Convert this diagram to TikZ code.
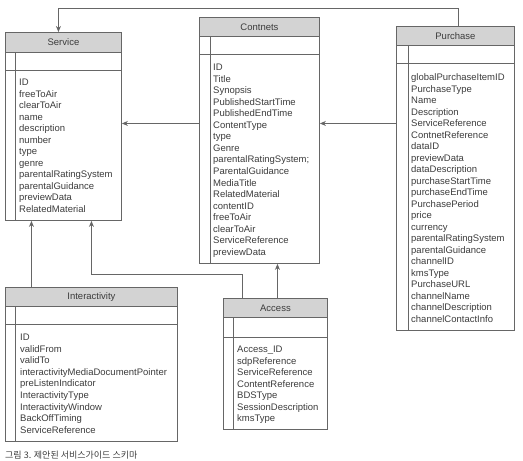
\documentclass[tikz,border=0pt]{standalone}
\usepackage{fontspec}
\setmainfont{Liberation Sans}
\newfontfamily\cjk{Noto Sans CJK KR}
\usetikzlibrary{arrows.meta}
\definecolor{linec}{HTML}{666666}
\definecolor{headc}{HTML}{D3D3D3}
\definecolor{textc}{HTML}{3C3C3C}
% #1 name, #2 left, #3 top, #4 right, #5 bottom, #6 header bottom, #7 separator, #8 inner x, #9 title
\newcommand{\umlbox}[9]{%
  \node[box, minimum width={#4-#2}, minimum height={#5-#3}] (#1) at (#2,#3) {};
  \node[head, minimum width={#4-#2}, minimum height={#6-#3}] (#1h) at (#2,#3) {#9};
  \draw[boxline] (#2,#7) -- (#4,#7);
  \draw[boxline] (#8,#6) -- (#8,#5);
}
\begin{document}
\begin{tikzpicture}[x=1pt,y=-1pt,
  box/.style={draw=linec, line width=0.9pt, inner sep=0, anchor=north west},
  head/.style={draw=linec, fill=headc, line width=0.9pt, inner sep=0, anchor=north west,
    font=\fontsize{9.5}{11}\selectfont, text=textc},
  boxline/.style={draw=linec, line width=0.9pt},
  attr/.style={anchor=west, inner sep=0, text height=7pt, text depth=2pt,
    font=\fontsize{9.5}{11}\selectfont, text=textc},
  conn/.style={draw=linec, line width=0.8pt, -{Stealth[length=6pt,width=5pt]}}]
\useasboundingbox (0,0) rectangle (523,461);

% Service
\umlbox{svc}{5}{32}{121}{220}{52}{70}{15.7}{Service}
\foreach \t [count=\i] in {ID,freeToAir,clearToAir,name,description,number,type,genre,parentalRatingSystem,parentalGuidance,previewData,RelatedMaterial}
  \node[attr] (svc-\i) at (19,{83+11.5*(\i-1)}) {\t};

% Contnets
\umlbox{con}{199}{17}{319}{263}{36}{54}{210}{Contnets}
\foreach \t [count=\i] in {ID,Title,Synopsis,PublishedStartTime,PublishedEndTime,ContentType,type,Genre,parentalRatingSystem;,ParentalGuidance,MediaTitle,RelatedMaterial,contentID,freeToAir,clearToAir,ServiceReference,previewData}
  \node[attr] (con-\i) at (213,{68+11.56*(\i-1)}) {\t};

% Purchase
\umlbox{pur}{396}{26}{514}{330}{45}{63}{408}{Purchase}
\foreach \t [count=\i] in {globalPurchaseItemID,PurchaseType,Name,Description,ServiceReference,ContnetReference,dataID,previewData,dataDescription,purchaseStartTime,purchaseEndTime,PurchasePeriod,price,currency,parentalRatingSystem,parentalGuidance,channelID,kmsType,PurchaseURL,channelName,channelDescription,channelContactInfo}
  \node[attr] (pur-\i) at (411,{78+11.52*(\i-1)}) {\t};

% Interactivity
\umlbox{int}{5}{287}{177}{441}{306}{324}{15.7}{Interactivity}
\foreach \t [count=\i] in {ID,validFrom,validTo,interactivityMediaDocumentPointer,preListenIndicator,InteractivityType,InteractivityWindow,BackOffTiming,ServiceReference}
  \node[attr] (int-\i) at (20,{338+11.6*(\i-1)}) {\t};

% Access
\umlbox{acc}{223}{298}{327}{429}{317}{337}{233}{Access}
\foreach \t [count=\i] in {Access\_ID,sdpReference,ServiceReference,ContentReference,BDSType,SessionDescription,kmsType}
  \node[attr] (acc-\i) at (237,{350+11.5*(\i-1)}) {\t};

% connector end points
\path ([xshift=3pt]purh.north) coordinate (purT);
\path ([xshift=-5pt]svch.north) coordinate (svcT);
\path ([yshift=17pt]con.west) coordinate (conL);
\path ([yshift=55pt]pur.west) coordinate (purL);
\path ([xshift=-60pt]inth.north) coordinate (intT);
\path ([xshift=-33pt]acch.north) coordinate (accT1);
\path ([xshift=2pt]acch.north) coordinate (accT2);
\path ([xshift=28pt]svc.south) coordinate (svcB2);

% connectors
\draw[conn] (purT) -- ++(0,-17.5) -| (svcT);
\draw[conn] (conL) -- (conL -| svc.east);
\draw[conn] (purL) -- (purL -| con.east);
\draw[conn] (intT) -- (intT |- svc.south);
\draw[conn] (accT1) -- ++(0,-24) -| (svcB2);
\draw[conn] (accT2) -- (accT2 |- con.south);

% caption
\node[anchor=west, inner sep=0, font=\cjk\fontsize{9}{10}\selectfont, text=textc] (cap) at (5,455) {그림 3. 제안된 서비스가이드 스키마};
\end{tikzpicture}
\end{document}
